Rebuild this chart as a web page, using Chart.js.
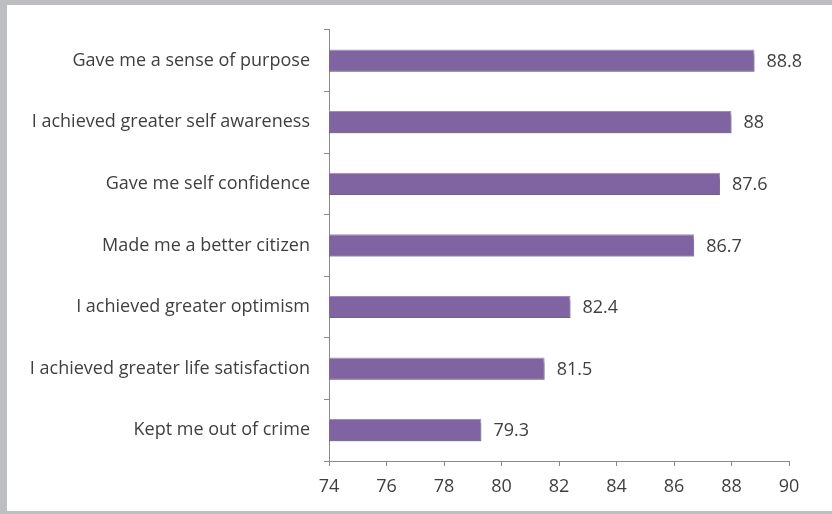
<!DOCTYPE html>
<html>
<head>
<meta charset="utf-8">
<script src="https://cdn.jsdelivr.net/npm/chart.js@4.4.1/dist/chart.umd.min.js"></script>
<style>
  html, body { margin: 0; padding: 0; background: #bdbec2; }
  #panel {
    position: absolute; left: 7px; top: 5px; width: 825px; height: 506px;
    background: #ffffff;
  }
  #chart { display: block; }
</style>
</head>
<body>
<div id="panel"><canvas id="chart" width="825" height="506"></canvas></div>
<script>
// chart data
const categories = [
  'Gave me a sense of purpose',
  'I achieved greater self awareness',
  'Gave me self confidence',
  'Made me a better citizen',
  'I achieved greater optimism',
  'I achieved greater life satisfaction',
  'Kept me out of crime'
];
const scores = [88.8, 88, 87.6, 86.7, 82.4, 81.5, 79.3];
const axisMin = 74;
const axisMax = 90;
const axisStep = 2;

const FONT = '"Open Sans", Lato, sans-serif';
const TEXT = '#3f3f3f';

// soft drop shadow under the bars, like the office chart
const barShadow = {
  id: 'barShadow',
  beforeDatasetsDraw(chart) {
    const ctx = chart.ctx;
    ctx.save();
    ctx.shadowColor = 'rgba(0,0,0,0.3)';
    ctx.shadowBlur = 2;
    ctx.shadowOffsetX = 1;
    ctx.shadowOffsetY = 4;
  },
  afterDatasetsDraw(chart) {
    chart.ctx.restore();
  }
};

// value labels at the end of each bar
const valueLabels = {
  id: 'valueLabels',
  afterDatasetsDraw(chart) {
    const ctx = chart.ctx;
    const meta = chart.getDatasetMeta(0);
    ctx.save();
    ctx.font = '18px ' + FONT;
    ctx.fillStyle = TEXT;
    ctx.textAlign = 'left';
    ctx.textBaseline = 'middle';
    meta.data.forEach((bar, i) => {
      ctx.fillText(String(scores[i]), bar.x + 12, bar.y + 1);
    });
    ctx.restore();
  }
};

new Chart(document.getElementById('chart'), {
  type: 'bar',
  data: {
    labels: categories,
    datasets: [{
      data: scores,
      backgroundColor: '#8064a2',
      borderColor: '#a08cbc',
      borderWidth: 1,
      borderSkipped: false,
      categoryPercentage: 0.36,
      barPercentage: 1
    }]
  },
  options: {
    indexAxis: 'y',
    responsive: false,
    animation: false,
    layout: { padding: { top: 24, right: 43, left: 0, bottom: 0 } },
    plugins: {
      legend: { display: false },
      tooltip: { enabled: false }
    },
    scales: {
      x: {
        min: axisMin,
        max: axisMax,
        ticks: {
          stepSize: axisStep,
          color: TEXT,
          font: { family: FONT, size: 18 },
          padding: 10
        },
        grid: {
          drawOnChartArea: false,
          color: '#8a8a8a',
          tickLength: 5
        },
        border: { color: '#8a8a8a', width: 1 },
        afterFit(scale) { scale.height = 50; }
      },
      y: {
        ticks: {
          color: TEXT,
          font: { family: FONT, size: 18 },
          padding: 14
        },
        grid: {
          offset: true,
          drawOnChartArea: false,
          color: '#8a8a8a',
          tickLength: 5
        },
        border: { color: '#8a8a8a', width: 1 },
        afterFit(scale) { scale.width = 322; }
      }
    }
  },
  plugins: [barShadow, valueLabels]
});
</script>
</body>
</html>
